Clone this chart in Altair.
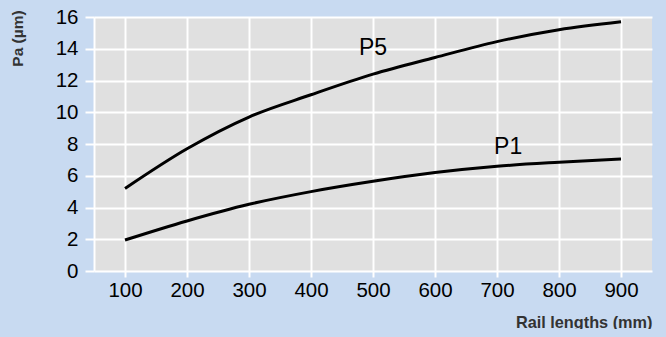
import altair as alt
import pandas as pd

rail_mm = [100, 200, 300, 400, 500, 600, 700, 800, 900]
p5_vals = [5.2, 7.7, 9.7, 11.1, 12.4, 13.45, 14.45, 15.2, 15.7]
p1_vals = [1.95, 3.15, 4.2, 5.0, 5.65, 6.2, 6.6, 6.85, 7.05]
series_names = ["P5", "P1"]
label_x = [500, 718]
label_y = [14.05, 7.8]
x_ticks = [100, 200, 300, 400, 500, 600, 700, 800, 900]
y_ticks = [0, 2, 4, 6, 8, 10, 12, 14, 16]

BG = "#C8DAF1"

rows = []
for x, v in zip(rail_mm, p5_vals):
    rows.append({"x": x, "y": v, "s": "P5"})
for x, v in zip(rail_mm, p1_vals):
    rows.append({"x": x, "y": v, "s": "P1"})
df = pd.DataFrame(rows)
labels = pd.DataFrame({"x": label_x, "y": label_y, "t": series_names})

xscale = alt.Scale(domain=[50, 950], nice=False, zero=False)
yscale = alt.Scale(domain=[0, 16], nice=False)

xaxis = alt.Axis(values=x_ticks, title="Rail lengths (mm)", grid=True, gridColor="white",
                 gridWidth=2, tickColor="white", tickWidth=2, tickSize=6, domain=False,
                 labelFont="Liberation Sans", labelFontSize=20.5, labelColor="black", labelPadding=3,
                 labelOverlap=False,
                 titleFont="Liberation Sans", titleFontSize=16.3, titleFontWeight="bold",
                 titleColor="#333333", titleAnchor="end", titleY=51, titleBaseline="middle")
yaxis = alt.Axis(values=y_ticks, title="Pa (µm)", grid=True, gridColor="white",
                 gridWidth=2, tickColor="white", tickWidth=2, tickSize=9, domain=True,
                 domainColor="white", domainWidth=2,
                 labelFont="Liberation Sans", labelFontSize=20.5, labelColor="black", labelPadding=7,
                 labelOverlap=False,
                 titleFont="Liberation Sans", titleFontSize=15.5, titleFontWeight="bold",
                 titleColor="#333333", titleX=-77, titleY=21, titleAngle=-90,
                 titleAlign="center", titleBaseline="middle")

lines = alt.Chart(df).mark_line(color="black", strokeWidth=3, interpolate="monotone").encode(
    x=alt.X("x:Q", scale=xscale, axis=xaxis),
    y=alt.Y("y:Q", scale=yscale, axis=yaxis),
    detail="s:N",
)

texts = alt.Chart(labels).mark_text(font="Liberation Sans", fontSize=23, color="black",
                                    align="center", baseline="middle").encode(
    x=alt.X("x:Q", scale=xscale, axis=xaxis),
    y=alt.Y("y:Q", scale=yscale, axis=yaxis),
    text="t:N",
)

chart = (lines + texts).properties(
    width=558, height=254,
    autosize=alt.AutoSizeParams(type="none"),
    padding={"left": 86, "top": 9, "right": 6, "bottom": 58},
    background=BG,
).configure_view(fill="#E0E0E0", stroke=None)

extra = {}
try:
    import jinja2
    from altair.utils import html as alt_html

    _base = getattr(alt_html, "TEMPLATES", {}).get("standard", getattr(alt_html, "HTML_TEMPLATE", None))

    class BlueTemplate(jinja2.Template):
        def render(self, *args, **kwargs):
            out = _base.render(*args, **kwargs)
            css = "body { background: %s; }" % BG
            if "<style>" in out:
                return out.replace("<style>", "<style>\n    " + css, 1)
            return out.replace("<head>", "<head><style>" + css + "</style>", 1)

    if _base is not None:
        extra["template"] = BlueTemplate("")
except Exception:
    extra = {}

try:
    chart.save("out.html", embed_options={"renderer": "svg", "actions": False}, **extra)
except Exception:
    chart.save("out.html", embed_options={"renderer": "svg", "actions": False})
